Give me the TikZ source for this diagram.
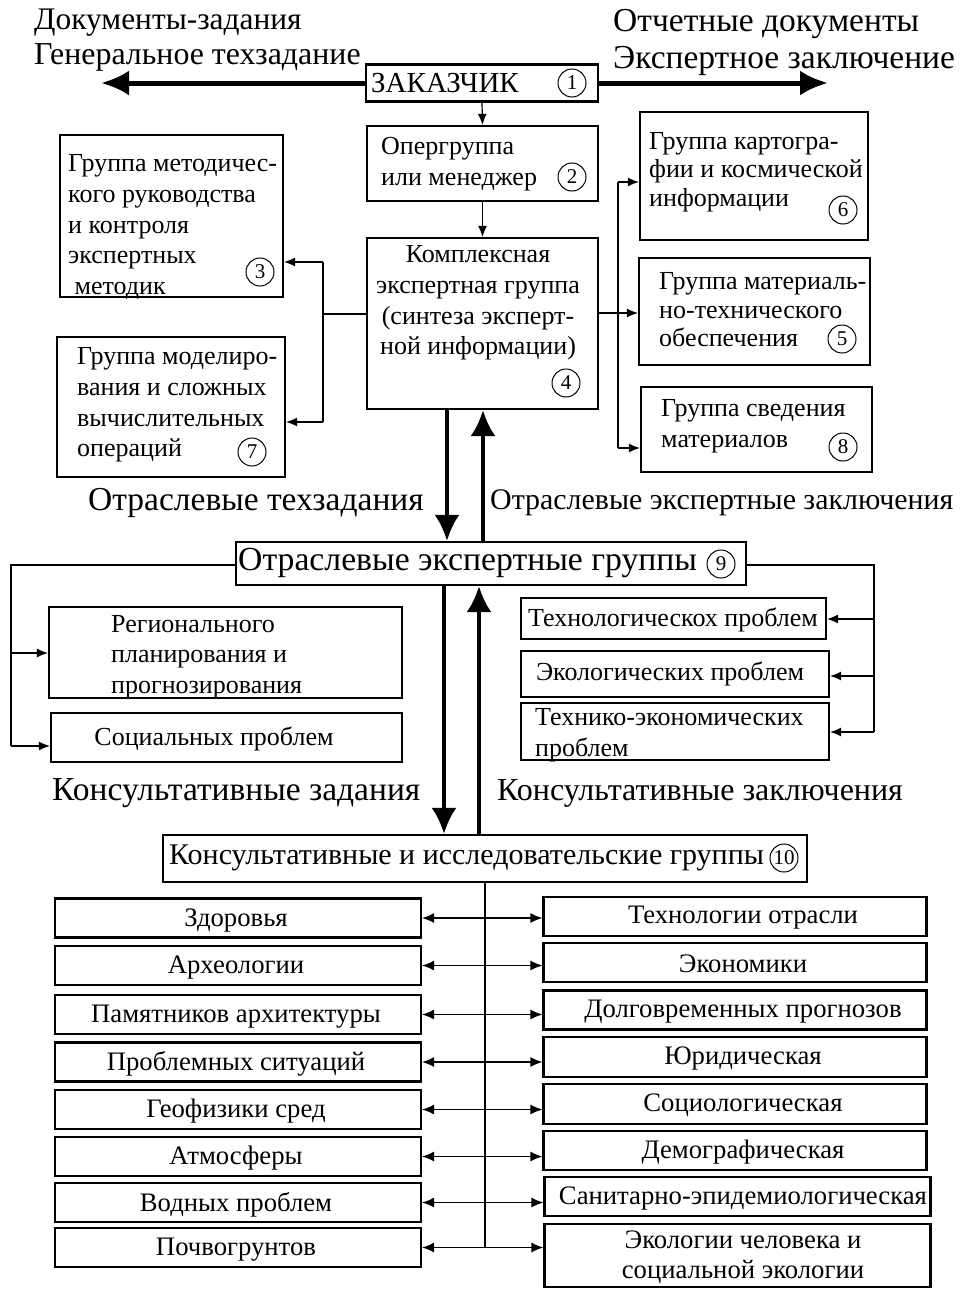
\documentclass[tikz,border=0pt]{standalone}
\usepackage{fontspec}
\setmainfont{Liberation Serif}
\usetikzlibrary{arrows.meta}
\newcommand\fBox{\fontsize{26}{30.7}\selectfont}
\newcommand\fBot{\fontsize{26.7}{30}\selectfont}
\newcommand\fs[1]{\fontsize{#1}{#1}\selectfont}
\begin{document}
\begin{tikzpicture}[x=1pt,y=-1pt,
  bx/.style={draw, line width=2.2pt, inner sep=0pt, fill=none},
  txt/.style={inner sep=0pt, align=left, font=\fBox},
  num/.style={circle, draw, line width=1pt, minimum size=28pt, inner sep=0pt, font=\fs{21}},
  thin/.style={line width=1.2pt},
  tarr/.style={line width=1.2pt, -{Latex[length=11pt,width=9pt]}},
  darr/.style={line width=1.2pt, {Latex[length=12pt,width=10pt]}-{Latex[length=12pt,width=10pt]}},
  fat/.style={line width=5pt, -{Latex[length=28pt,width=25pt]}},
  fatv/.style={line width=4pt, -{Latex[length=26pt,width=25pt]}},
  lab/.style={inner sep=0pt, anchor=west}]
\useasboundingbox (0,0) rectangle (963,1314);

% top labels
\node[lab, font=\fs{31.4}] (t1) at (34,23) {Документы-задания};
\node[lab, font=\fs{31.9}] (t2) at (34,57) {Генеральное техзадание};
\node[lab, font=\fs{33.5}] (t3) at (613,24) {Отчетные документы};
\node[lab, font=\fs{33.5}] (t4) at (613,61) {Экспертное заключение};

% customer
\node[bx, minimum width=232, minimum height=37] (b1) at (482,83) {};
\node[txt, font=\fs{29}, anchor=west] (b1t) at (371,83) {ЗАКАЗЧИК};
\node[num] (c1) at (572,83) {1};
\coordinate (tipL) at (101,83);
\coordinate (tipR) at (828,83);
\draw[fat] (b1.west) -- (tipL);
\draw[fat] (b1.east) -- (tipR);

% operational group
\node[bx, minimum width=231, minimum height=75] (b2) at (482.5,163.5) {};
\node[txt, anchor=west] (b2t) at (381,164) {Опергруппа\\или менеджер};
\node[num] (c2) at (572,177) {2};
\draw[tarr] (b1.south) -- (b2.north);

% complex expert group
\node[bx, minimum width=231, minimum height=171] (b4) at (482.5,323.5) {};
\node[txt, align=center] (b4t) at (478,303) {Комплексная\\экспертная группа\\(синтеза эксперт-\\ной информации)};
\node[num] (c4) at (566,383) {4};
\draw[tarr] (b2.south) -- (b4.north);

% left groups
\node[bx, minimum width=223, minimum height=162] (b3) at (171.5,216) {};
\node[txt, anchor=west] (b3t) at (68,227) {Группа методичес-\\кого руководства\\и контроля\\экспертных\\\ методик};
\node[num] (c3) at (260,272) {3};
\node[bx, minimum width=228, minimum height=140] (b7) at (171,407) {};
\node[txt, anchor=west] (b7t) at (77,405) {Группа моделиро-\\вания и сложных\\вычислительных\\операций};
\node[num] (c7) at (252,452) {7};
\coordinate (jl) at (323,314);
\coordinate (jl3) at (323,262);
\coordinate (jl7) at (323,422);
\draw[thin] (b4.west |- jl) -- (jl);
\draw[thin] (jl3) -- (jl7);
\draw[tarr] (jl3) -- (b3.east |- jl3);
\draw[tarr] (jl7) -- (b7.east |- jl7);

% right groups
\node[bx, minimum width=228, minimum height=128] (b6) at (754,176) {};
\node[txt, anchor=west, font=\fontsize{26}{28.5}\selectfont] (b6t) at (649,172) {Группа картогра-\\фии и космической\\информации};
\node[num] (c6) at (843,210) {6};
\node[bx, minimum width=231, minimum height=107] (b5) at (754.5,311.5) {};
\node[txt, anchor=west, font=\fontsize{26}{28.5}\selectfont] (b5t) at (659,310) {Группа материаль-\\но-технического\\обеспечения};
\node[num] (c5) at (842,339) {5};
\node[bx, minimum width=231, minimum height=85] (b8) at (756.5,429.5) {};
\node[txt, anchor=west] (b8t) at (661,426) {Группа сведения\\материалов};
\node[num] (c8) at (843,447) {8};
\coordinate (jr) at (618,313);
\coordinate (jr6) at (618,182);
\coordinate (jr8) at (618,448);
\draw[thin] (jr6) -- (jr8);
\draw[tarr] (b4.east |- jr) -- (b5.west |- jr);
\draw[tarr] (jr6) -- (b6.west |- jr6);
\draw[tarr] (jr8) -- (b8.west |- jr8);

% branch expert groups
\node[bx, minimum width=510, minimum height=43] (b9) at (491,563.5) {};
\node[txt, font=\fs{33.7}, anchor=west] (b9t) at (238,563) {Отраслевые экспертные группы};
\node[num] (c9) at (721,564) {9};
\coordinate (d1a) at (447,409);
\coordinate (u1a) at (483,409);
\draw[fatv] (b4.south -| d1a) -- (b9.north -| d1a);
\draw[fatv] (b9.north -| u1a) -- (b4.south -| u1a);
\node[lab, font=\fs{33.5}] (l1) at (88,503) {Отраслевые техзадания};
\node[lab, font=\fs{29.9}] (l2) at (490,503) {Отраслевые экспертные заключения};

\node[bx, minimum width=353, minimum height=91] (bR) at (225.5,652.5) {};
\node[txt, anchor=west] (bRt) at (111,657) {Регионального\\планирования и\\прогнозирования};
\node[bx, minimum width=351, minimum height=49] (bS) at (226.5,737.5) {};
\node[txt] (bSt) at (214,739) {Социальных проблем};
\coordinate (kl) at (11,565);
\coordinate (klR) at (11,653);
\coordinate (klS) at (11,746);
\draw[thin] (b9.west |- kl) -- (kl) -- (klS);
\draw[tarr] (klR) -- (bR.west |- klR);
\draw[tarr] (klS) -- (bS.west |- klS);

\node[bx, minimum width=305, minimum height=41] (bT1) at (673.5,618.5) {};
\node[txt] (bT1t) at (673,620) {Технологическох проблем};
\node[bx, minimum width=308, minimum height=46] (bT2) at (675,674) {};
\node[txt] (bT2t) at (670,674) {Экологических проблем};
\node[bx, minimum width=308, minimum height=57] (bT3) at (675,731.5) {};
\node[txt, anchor=west] (bT3t) at (535,735) {Технико-экономических\\проблем};
\coordinate (kr) at (874,565);
\coordinate (kr1) at (874,619);
\coordinate (kr2) at (874,676);
\coordinate (kr3) at (874,732);
\draw[thin] (b9.east |- kr) -- (kr) -- (kr3);
\draw[tarr] (kr1) -- (bT1.east |- kr1);
\draw[tarr] (kr2) -- (bT2.east |- kr2);
\draw[tarr] (kr3) -- (bT3.east |- kr3);

% consultative groups
\node[bx, minimum width=644, minimum height=47] (b10) at (485,858.5) {};
\node[txt, font=\fs{30}, anchor=west] (b10t) at (169,858) {Консультативные и исследовательские группы};
\node[num] (c10) at (784,858) {10};
\coordinate (d2a) at (444,600);
\coordinate (u2a) at (479,600);
\draw[fatv] (b9.south -| d2a) -- (b10.north -| d2a);
\draw[fatv] (b10.north -| u2a) -- (b9.south -| u2a);
\node[lab, font=\fs{33.5}] (l3) at (52,793) {Консультативные задания};
\node[lab, font=\fs{32}] (l4) at (497,793) {Консультативные заключения};

\foreach \i/\ly/\lt/\rx/\rw/\ry/\rh/\rt in {
 1/918/Здоровья/735/383/916.5/39/Технологии отрасли,
 2/965.5/Археологии/735/383/962.5/39/Экономики,
 3/1014.5/Памятников архитектуры/735/383/1010/39/Долговременных прогнозов,
 4/1062/Проблемных ситуаций/735/383/1057/40/Юридическая,
 5/1109.5/Геофизики сред/735/383/1104/40/Социологическая,
 6/1156.5/Атмосферы/735/383/1150.5/39/Демографическая,
 7/1202.5/Водных проблем/737.5/386/1196.5/39/Санитарно-эпидемиологическая,
 8/1247.5/Почвогрунтов/737.5/386/1255.5/63/{Экологии человека и\\социальной экологии}}{
  \node[bx, minimum width=366, minimum height=39] (L\i) at (238,\ly) {};
  \node[txt, font=\fBot, align=center] (L\i t) at (236,\ly+2) {\lt};
  \node[bx, minimum width=\rw, minimum height=\rh] (R\i) at (\rx,\ry) {};
  \node[txt, font=\fBot, align=center] (R\i t) at (743,\ry+1.5) {\rt};
  \draw[darr] (L\i.east) -- (R\i.west |- L\i.east);
}
\draw[thin] (b10.south) -- (b10.south |- L8.east);
\end{tikzpicture}
\end{document}
